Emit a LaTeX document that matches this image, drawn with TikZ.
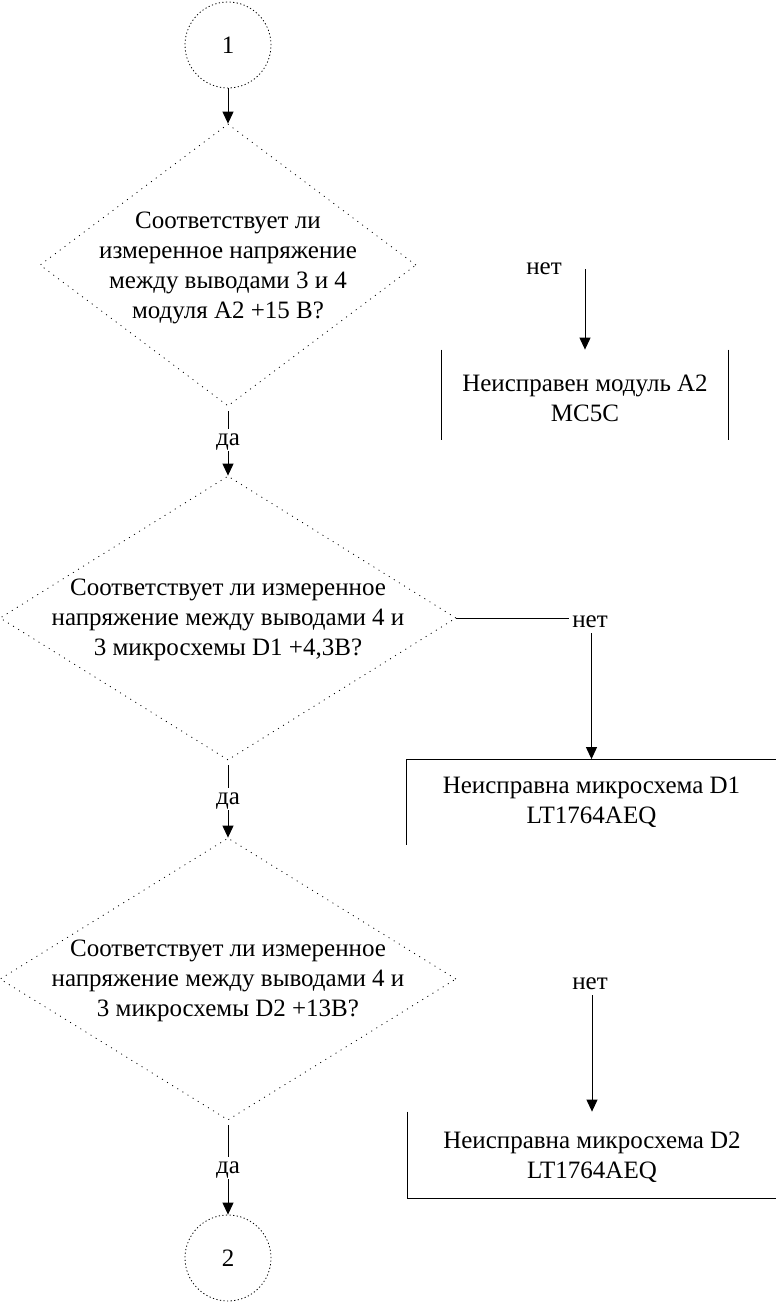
\documentclass[tikz,border=0pt]{standalone}
\usepackage{fontspec}
\setmainfont{Liberation Serif}
\usetikzlibrary{shapes.geometric,arrows.meta}
\begin{document}
\begin{tikzpicture}[x=0.5pt,y=-0.5pt,
  every node/.style={font=\fontsize{12.5pt}{15pt}\selectfont},
  term/.style={circle, draw, line width=0.4pt, dash pattern=on 0.6pt off 1.2pt, minimum size=43pt, inner sep=0pt},
  cond/.style={diamond, draw, line width=0.4pt, dash pattern=on 0.5pt off 2.5pt, inner sep=0pt},
  txt/.style={align=center, inner sep=0pt},
  fault/.style={inner sep=0pt},
  lbl/.style={inner sep=1.5pt, text height=1.5ex, text depth=.25ex},
  line/.style={line width=0.5pt},
  arr/.style={line width=0.5pt, -{Triangle[width=5.5pt,length=6pt]}}]
\useasboundingbox (0,0) rectangle (776,1303);
%
\node[term] (c1) at (228,45) {1};
\node[term] (c2) at (228,1258) {2};
%
\node[cond, minimum width=188pt, minimum height=141pt] (q1) at (228,265) {};
\node[txt] (q1t) at (228,268) {Соответствует ли\\измеренное напряжение\\между выводами 3 и 4\\модуля A2 +15 В?};
\node[cond, minimum width=228pt, minimum height=142pt] (q2) at (228,618) {};
\node[txt] (q2t) at (228,620) {Соответствует ли измеренное\\напряжение между выводами 4 и\\3 микросхемы D1 +4,3В?};
\node[cond, minimum width=228pt, minimum height=141pt] (q3) at (228,979) {};
\node[txt] (q3t) at (228,981) {Соответствует ли измеренное\\напряжение между выводами 4 и\\3 микросхемы D2 +13В?};
%
\node[fault, minimum width=143pt, minimum height=45pt] (b1) at (585,395) {};
\node[txt] (b1t) at (585,398) {Неисправен модуль A2\\MC5C};
\node[fault, minimum width=184.5pt, minimum height=42.5pt] (b2) at (591.5,802) {};
\node[txt] (b2t) at (591.5,802) {Неисправна микросхема D1\\LT1764AEQ};
\node[fault, minimum width=184pt, minimum height=43pt] (b3) at (592,1155) {};
\node[txt] (b3t) at (592,1157) {Неисправна микросхема D2\\LT1764AEQ};
%
\draw[line] (b1.north west) -- (b1.south west);
\draw[line] (b1.north east) -- (b1.south east);
\draw[line] (b2.south west) -- (b2.north west) -- (b2.north east) -- (b2.south east);
\draw[line] (b3.north west) -- (b3.south west) -- (b3.south east) -- (b3.north east);
%
\node[lbl] (da1) at (228,440) {да};
\node[lbl] (da2) at (228,799) {да};
\node[lbl] (da3) at (228,1168) {да};
\node[lbl] (net1) at (544,269) {нет};
\node[lbl] (net2) at (590,622) {нет};
\node[lbl] (net3) at (590,984) {нет};
%
\draw[arr] (c1) -- (q1.north);
\draw[line, shorten <=5pt*0.5] (q1.south) -- (da1);
\draw[arr] (da1) -- (q2.north);
\draw[line, shorten <=5pt*0.5] (q2.south) -- (da2);
\draw[arr] (da2) -- (q3.north);
\draw[line, shorten <=5pt*0.5] (q3.south) -- (da3);
\draw[arr] (da3) -- (c2);
%
\draw[arr] (net1.east -| b1.north) -- (b1.north);
\draw[line] (q2.east) -- (q2.east -| net2.west);
\draw[arr] (net2.south -| b2.north) -- (b2.north);
\draw[arr] (net3.south -| b3.north) -- (b3.north);
%
\end{tikzpicture}
\end{document}
